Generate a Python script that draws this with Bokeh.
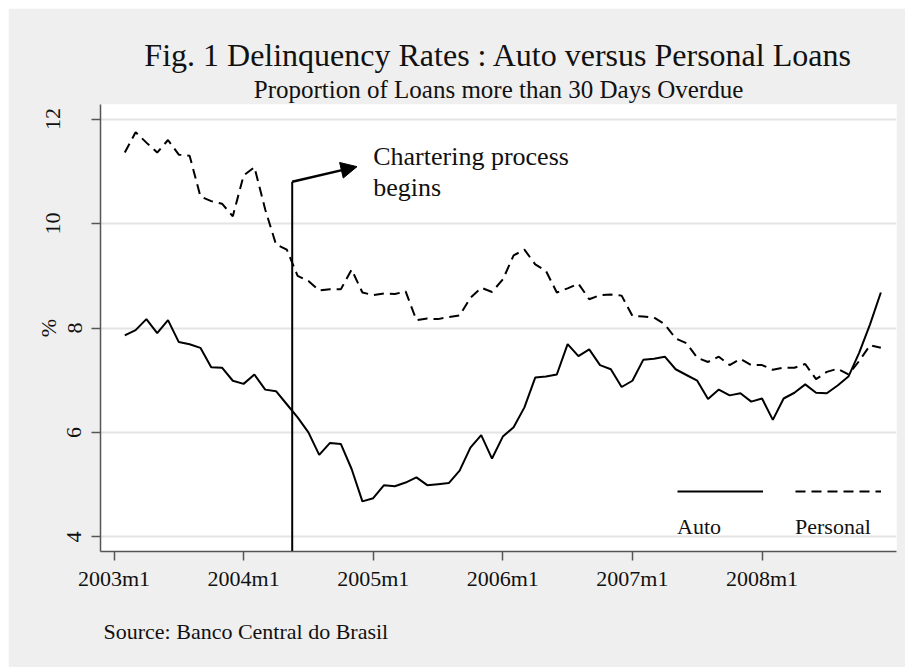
from bokeh.plotting import figure
from bokeh.models import (Title, Arrow, NormalHead, Label, Legend, LegendItem,
                          Range1d, FixedTicker, LinearAxis)
from bokeh.embed import file_html
from bokeh.resources import INLINE

# ---------------- data (months counted from 2003m1 = 0) ----------------
month_labels = ["2003m2", "2003m3", "2003m4", "2003m5", "2003m6", "2003m7", "2003m8",
                "2003m9", "2003m10", "2003m11", "2003m12"] + \
               [f"{y}m{m}" for y in range(2004, 2009) for m in range(1, 13)]

auto = [7.86, 7.96, 8.17, 7.90, 8.15, 7.73, 7.69, 7.62, 7.25, 7.24, 6.99,
        6.93, 7.11, 6.82, 6.79, 6.54, 6.29, 6.00, 5.57, 5.80, 5.78, 5.30, 4.68,
        4.74, 4.99, 4.97, 5.04, 5.14, 4.99, 5.01, 5.03, 5.27, 5.71, 5.95, 5.50,
        5.92, 6.10, 6.48, 7.05, 7.07, 7.11, 7.69, 7.46, 7.59, 7.29, 7.21, 6.87,
        6.99, 7.39, 7.41, 7.45, 7.21, 7.10, 6.99, 6.64, 6.82, 6.71, 6.75, 6.59,
        6.65, 6.24, 6.65, 6.76, 6.92, 6.76, 6.75, 6.90, 7.07, 7.53, 8.07, 8.68]

personal = [11.36, 11.75, 11.55, 11.36, 11.60, 11.32, 11.30, 10.52, 10.43, 10.38, 10.14,
            10.92, 11.08, 10.27, 9.60, 9.50, 9.00, 8.90, 8.72, 8.74, 8.74, 9.12, 8.68,
            8.63, 8.66, 8.65, 8.70, 8.15, 8.18, 8.17, 8.21, 8.24, 8.58, 8.77, 8.69,
            8.93, 9.39, 9.50, 9.22, 9.09, 8.68, 8.76, 8.85, 8.55, 8.63, 8.64, 8.62,
            8.23, 8.22, 8.20, 8.07, 7.80, 7.71, 7.43, 7.35, 7.45, 7.29, 7.41, 7.29,
            7.29, 7.20, 7.24, 7.24, 7.31, 7.02, 7.16, 7.22, 7.11, 7.37, 7.67, 7.62]


def month_number(label):
    y, m = label.split("m")
    return (int(y) - 2003) * 12 + int(m) - 1


months = [month_number(s) for s in month_labels]

x_tick_labels = ["2003m1", "2004m1", "2005m1", "2006m1", "2007m1", "2008m1"]
x_ticks = [month_number(s) for s in x_tick_labels]
y_ticks = [4, 6, 8, 10, 12]
y_ticks_near = [4, 6, 8]      # one-digit labels, set close to the axis
y_ticks_far = [10, 12]        # two-digit labels, set further out

event_month = 16.5          # chartering process begins (mid 2004m5)
event_level = 10.8
arrow_end = (22.5, 11.09)
note_pos = (24.0, 11.28)

Y0, Y1 = 3.72, 12.28

FONT = "Liberation Serif"
BG = "#efefef"
AXIS = "#555555"
TXT = "#111111"

p = figure(width=897, height=659, output_backend="svg", toolbar_location=None,
           x_range=Range1d(-1.25, 72.45), y_range=Range1d(Y0, Y1),
           min_border_left=92, min_border_right=9, min_border_top=96,
           min_border_bottom=116,
           background_fill_color="white", border_fill_color=BG,
           outline_line_color=None)
p.margin = (8, 0, 0, 8)

r_auto = p.line(months, auto, line_color="black", line_width=2)
r_pers = p.line(months, personal, line_color="black", line_width=2,
                line_dash="10 6")

# event marker
p.segment(x0=[event_month], y0=[Y0], x1=[event_month], y1=[event_level],
          line_color="black", line_width=2)
p.add_layout(Arrow(end=NormalHead(size=16, fill_color="black", line_color="black"),
                   x_start=event_month, y_start=event_level,
                   x_end=arrow_end[0], y_end=arrow_end[1],
                   line_color="black", line_width=2.5))
p.add_layout(Label(x=note_pos[0], y=note_pos[1], text="Chartering process",
                   text_font=FONT, text_font_size="26px", text_color=TXT,
                   text_baseline="middle", text_align="left"))
p.add_layout(Label(x=note_pos[0], y=note_pos[1] - 0.58, text="begins",
                   text_font=FONT, text_font_size="26px", text_color=TXT,
                   text_baseline="middle", text_align="left"))


def style_axis(ax):
    ax.axis_line_color = AXIS
    ax.axis_line_width = 1.5
    ax.major_tick_line_color = AXIS
    ax.major_tick_line_width = 1.5
    ax.major_tick_out = 9
    ax.major_tick_in = 0
    ax.minor_tick_line_color = None
    ax.major_label_text_font = FONT
    ax.major_label_text_font_size = "22px"
    ax.major_label_text_color = TXT
    ax.axis_label_text_font = FONT
    ax.axis_label_text_font_size = "22px"
    ax.axis_label_text_font_style = "normal"
    ax.axis_label_text_color = TXT


# x axis
xa = p.xaxis[0]
style_axis(xa)
xa.ticker = FixedTicker(ticks=x_ticks)
xa.major_label_overrides = {t: s for t, s in zip(x_ticks, x_tick_labels)}
xa.major_label_standoff = 5

# y axis (ticks at every level, one-digit labels)
ya = p.yaxis[0]
style_axis(ya)
ya.ticker = FixedTicker(ticks=y_ticks)
ya.major_label_overrides = {t: "" for t in y_ticks_far}
ya.major_label_orientation = "vertical"
ya.major_label_standoff = 10

# outer y axis carrying the two-digit labels and the axis title
ya2 = LinearAxis(ticker=FixedTicker(ticks=y_ticks_far))
style_axis(ya2)
ya2.axis_line_color = None
ya2.major_tick_line_color = None
ya2.major_tick_out = 0
ya2.major_label_orientation = "vertical"
ya2.major_label_standoff = 4
ya2.axis_label = "%"
ya2.axis_label_standoff = -17
p.add_layout(ya2, "left")

p.xgrid.visible = False
p.ygrid.grid_line_color = "#e4e4e4"
p.ygrid.grid_line_width = 2

# legend: key line above, label underneath (Stata style)
for name, rend, xloc in (("Auto", r_auto, 577), ("Personal", r_pers, 695)):
    leg = Legend(items=[LegendItem(label=" ", renderers=[rend])],
                 title=name, title_location="below", title_standoff=13,
                 title_text_font=FONT, title_text_font_size="22px",
                 title_text_font_style="normal", title_text_color=TXT,
                 location=(xloc, 11), glyph_width=86, glyph_height=20,
                 label_standoff=0, label_width=0, label_height=20,
                 label_text_font_size="8px", padding=0, margin=0, spacing=0,
                 background_fill_alpha=0, border_line_color=None)
    p.add_layout(leg)

# titles
sub = Title(text="Proportion of Loans more than 30 Days Overdue", align="center",
            text_font=FONT, text_font_size="25px", text_font_style="normal",
            text_color=TXT, standoff=3)
main = Title(text="Fig. 1 Delinquency Rates : Auto versus Personal Loans",
             align="center", text_font=FONT, text_font_size="32px",
             text_font_style="normal", text_color=TXT, standoff=0)
p.add_layout(sub, "above")
p.add_layout(main, "above")

src = Title(text="Source: Banco Central do Brasil", align="left", offset=3,
            text_font=FONT, text_font_size="22px", text_font_style="normal",
            text_color=TXT, standoff=47)
p.add_layout(src, "below")

open("out.html", "w").write(file_html(p, INLINE))
